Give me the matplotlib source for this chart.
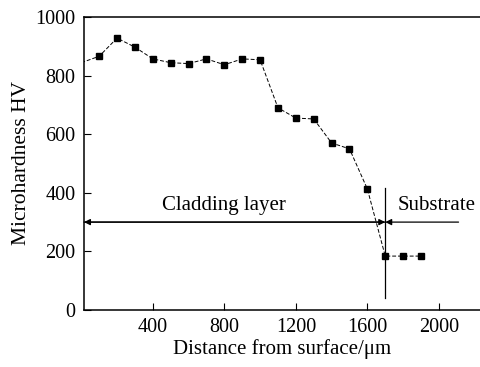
import numpy as np
import matplotlib as mpl
import matplotlib.pyplot as plt

mpl.rcParams['font.family'] = 'Liberation Serif'
mpl.rcParams['font.size'] = 14

# hardness profile
distance = [0, 100, 200, 300, 400, 500, 600, 700, 800, 900, 1000,
            1100, 1200, 1300, 1400, 1500, 1600, 1700, 1800, 1900]
hardness = [844, 866, 928, 897, 857, 844, 841, 857, 837, 857, 854,
            690, 655, 652, 570, 550, 413, 184, 184, 184]

x_ticks = [400, 800, 1200, 1600, 2000]
y_ticks = [0, 200, 400, 600, 800, 1000]

boundary = 1700
arrow_y = 300

fig = plt.figure(figsize=[4.8, 3.67], dpi=100)
ax = fig.add_axes([0.175, 0.1553, 0.825, 0.7984])

# first point sits on the axis edge, no marker drawn there
ax.plot(distance, hardness, color='black', lw=0.7, ls=(0, (4, 2)),
        marker='s', ms=4.8, mfc='black', mec='black',
        markevery=list(range(1, len(distance))))

# boundary line + region arrows
ax.plot([boundary, boundary], [40, 415], color='black', lw=0.9)
arrow = dict(arrowstyle='-|>', color='black', lw=0.9,
             mutation_scale=9, shrinkA=0, shrinkB=0)
ax.annotate('', xy=(15, arrow_y), xytext=(boundary, arrow_y), arrowprops=arrow)
ax.annotate('', xy=(boundary, arrow_y), xytext=(15, arrow_y), arrowprops=arrow)
ax.annotate('', xy=(boundary, arrow_y), xytext=(2110, arrow_y), arrowprops=arrow)

ax.text(800, 357, 'Cladding layer', ha='center', va='center', fontsize=15)
ax.text(1985, 357, 'Substrate', ha='center', va='center', fontsize=15)

ax.set_xlim(15, 2230)
ax.set_ylim(0, 1000)
ax.set_xticks(x_ticks)
ax.set_yticks(y_ticks)
ax.tick_params(direction='in', length=5, width=0.8, labelsize=14.5, pad=6)
ax.spines['right'].set_visible(False)
for s in ['left', 'top', 'bottom']:
    ax.spines[s].set_linewidth(1.1)

ax.set_xlabel('Distance from surface/μm', fontsize=15, labelpad=1)
ax.set_ylabel('Microhardness HV', fontsize=15.5, labelpad=3)

fig.savefig('out.png', dpi=100)
